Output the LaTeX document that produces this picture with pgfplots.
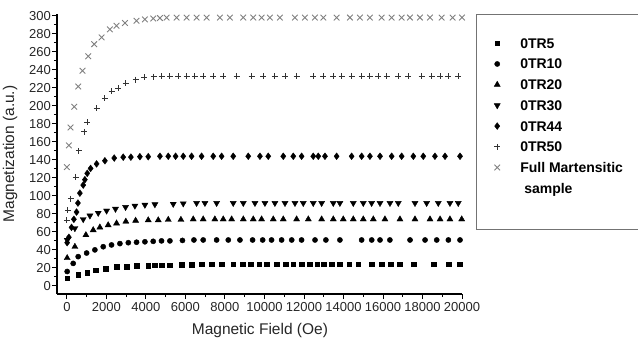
\documentclass[border=0pt]{standalone}
\usepackage{fontspec}
\setmainfont{Liberation Sans}
\usepackage{pgfplots}
\pgfplotsset{compat=1.18}
\begin{document}
\begin{tikzpicture}
\begin{axis}[
  at={(57pt,52pt)}, anchor=south west,
  width=405pt, height=280pt, scale only axis,
  xmin=-500, xmax=20000, ymin=-9, ymax=302,
  axis x line*=bottom, axis y line*=left,
  axis line style={line width=1.1pt},
  tick align=outside, major tick length=5pt, minor tick length=3pt,
  every tick/.style={black, line width=0.9pt},
  xtick={0,2000,...,20000}, ytick={0,20,...,300},
  minor x tick num=1, minor y tick num=1,
  scaled x ticks=false,
  /pgf/number format/assume math mode=true,
  /pgf/number format/1000 sep={},
  tick label style={font=\fontsize{13}{15}\selectfont, black!85},
  yticklabel style={inner xsep=1pt},
  xlabel={Magnetic Field (Oe)}, ylabel={Magnetization (a.u.)},
  label style={font=\fontsize{15.5}{18}\selectfont, black!85},
  xlabel style={at={(axis description cs:0.501,-0.132)}, anchor=center},
  ylabel style={at={(axis description cs:-0.116,0.5)}, anchor=center},
  clip=false,
  legend cell align=left,
  legend style={at={(axis description cs:1.0654,0.914)}, anchor=north west,
    draw=none, fill=none, inner sep=0pt, row sep=10.7pt, column sep=20pt,
    font=\bfseries\fontsize{14}{16}\selectfont,
    nodes={inner sep=0pt, text height=10pt, text depth=0pt}},
]
% 0TR5
\addplot[only marks, mark=square*, mark size=2.4pt, black] coordinates {
(15,8.5) (573,12) (1030,15) (1468,17.5) (1958,19.5) (2515,21) (3021,21.5) (3527,22) (4118,22.5) (4455,23) (4793,23) (5215,23) (5806,23.5) (6312,23.5) (6820,24) (7327,24) (7833,24) (8422,24) (8894,24) (9300,24) (9738,24) (10110,24) (10616,24) (11089,24) (11460,24) (11882,24) (12304,24) (12675,24) (13013,24) (13400,24) (13823,24) (14295,24) (14750,24) (15426,24) (15932,24) (16388,24) (16861,24) (17536,24) (18549,24) (19308,24) (19900,24)};
\addlegendentry{0TR5}
% 0TR10
\addplot[only marks, mark=*, mark size=2.6pt, black] coordinates {
(15,16) (320,25) (573,32.5) (1000,36.5) (1418,40) (1840,43.5) (2260,45.5) (2684,47) (3110,48) (3527,48.5) (3950,49) (4370,49.5) (4790,50) (5215,50) (5850,50.5) (6430,51) (6900,51) (7580,51) (8170,51) (8760,51) (9400,51) (9910,51) (10360,51) (10870,51) (11380,51) (11880,51) (12560,51) (13110,51) (13820,51) (14920,51) (15430,51) (15850,51) (16350,51) (17370,51) (18130,51) (18720,51) (19310,51) (19900,51)};
\addlegendentry{0TR10}
% 0TR20
\addplot[only marks, mark=triangle*, mark size=3.5pt, black] coordinates {
(15,31) (405,43.5) (962,56.5) (1333,62) (1670,65) (2090,67.5) (2515,69.5) (2985,71.5) (3480,72.5) (4118,73) (4625,73) (5131,73.5) (5772,73.5) (6396,74) (6900,74) (7490,74) (7915,74) (8340,74) (8930,74) (9434,74) (9856,74) (10447,74) (10953,74) (11628,74) (12220,74) (12895,74) (13485,74) (13990,74) (14497,74) (15003,74) (15510,74) (16100,74) (16860,74) (17620,74) (18380,74) (18890,74) (19390,74) (19985,74)};
\addlegendentry{0TR20}
% 0TR30
\addplot[only marks, mark=triangle*, mark size=3.5pt, mark options={rotate=180}, black] coordinates {
(15,51) (405,64) (827,74) (1165,78) (1587,81) (2010,83.5) (2460,85.5) (2970,87.5) (3443,89) (3950,90) (4455,90.5) (5384,91) (5890,91.5) (6565,92) (6988,92) (7580,92) (8420,92) (8930,92) (9520,92) (10025,92) (10530,92) (11040,92) (11545,92) (11965,92) (12470,92) (12895,92) (13485,92) (13820,92) (14497,92) (15003,92) (15425,92) (15850,92) (16354,92) (16775,92) (17620,92) (18210,92) (18800,92) (19390,92) (19810,92)};
\addlegendentry{0TR30}
% 0TR44
\addplot[only marks, mark=diamond*, mark size=3.4pt, black] coordinates {
(15,48) (100,54) (236,65) (354,74) (490,82) (560,92) (658,103) (827,112) (911,118) (1030,125) (1200,130.5) (1503,135.5) (1924,139) (2397,142) (2852,143) (3240,143) (3696,143.5) (4118,143.5) (4710,144) (5131,144) (5503,144) (5890,144) (6312,144) (6819,144) (7407,144) (7833,144) (8420,144) (9180,144) (9772,144) (10193,144) (10953,144) (11460,144) (11882,144) (12470,144) (12725,144) (13063,144) (13654,144) (14413,144) (14920,144) (15340,144) (15850,144) (16440,144) (16945,144) (17536,144) (18040,144) (18630,144) (19140,144) (19900,144)};
\addlegendentry{0TR44}
% 0TR50
\addplot[only marks, mark=+, mark size=3pt, line width=0.9pt, black!80] coordinates {
(0,73) (50,84) (200,97) (440,121) (608,150) (878,171) (1030,182) (1503,197.5) (1924,208.5) (2262,216) (2600,219.5) (2970,225) (3478,229) (3916,231.5) (4390,232.5) (4793,233) (5215,233) (5637,233) (6060,233) (6480,233) (6900,233) (7407,233) (7915,233) (8590,233) (9350,233) (9940,233) (10530,233) (11040,233) (11630,233) (12470,233) (12980,233) (13485,233) (13907,233) (14413,233) (14920,233) (15340,233) (15760,233) (16185,233) (16775,233) (17280,233) (17960,233) (18463,233) (18890,233) (19310,233) (19810,233)};
\addlegendentry{0TR50}
% Full martensitic
\addplot[only marks, mark=x, mark size=4pt, line width=0.9pt, black!50] coordinates {
(0,132) (101,156) (186,176) (372,199) (573,221.5) (794,239) (1080,255) (1384,268.5) (1755,276) (2177,285) (2515,289) (2937,292) (3527,294.5) (3950,296) (4370,297) (4710,297.5) (5047,298) (5553,298) (6060,298) (6566,298) (7073,298) (7746,298) (8252,298) (8927,298) (9434,298) (9856,298) (10278,298) (10784,298) (11544,298) (12050,298) (12557,298) (12980,298) (13654,298) (14330,298) (14835,298) (15340,298) (15932,298) (16438,298) (16945,298) (17367,298) (17873,298) (18380,298) (18970,298) (19527,298) (20000,298)};
\addlegendentry{Full Martensitic}
\addlegendimage{empty legend}
\addlegendentry{\hspace{4pt}sample}
\end{axis}
\draw[black!55, line width=1pt] (476pt,331pt) rectangle (645pt,116pt);
\pgfresetboundingbox
\path[use as bounding box] (0,0) rectangle (638pt,346pt);
\end{tikzpicture}
\end{document}
